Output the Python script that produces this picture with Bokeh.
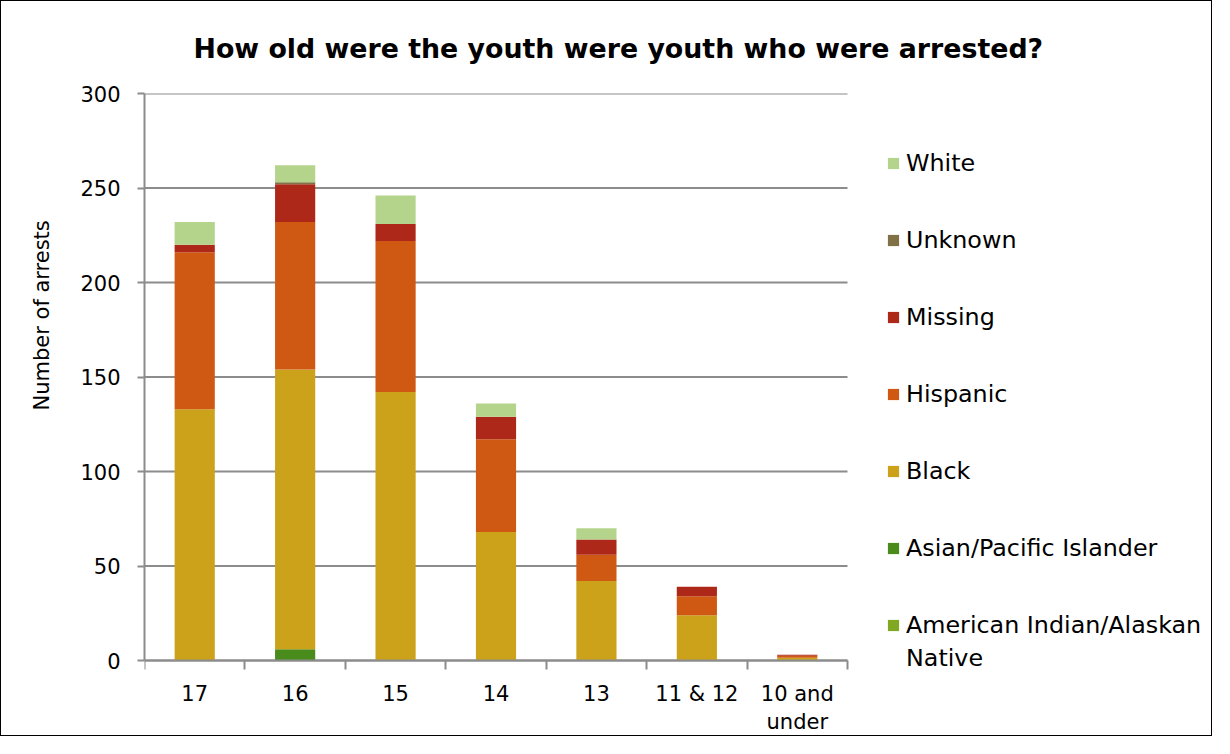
from bokeh.plotting import figure
from bokeh.models import (FixedTicker, ColumnDataSource, Legend, LegendItem,
                          Range1d, Title)
from bokeh.embed import file_html
from bokeh.resources import INLINE

categories = ["17", "16", "15", "14", "13", "11 & 12", "10 and\nunder"]
american_indian = [0, 0, 0, 0, 0, 0, 0]
asian = [0, 6, 0, 0, 0, 0, 0]
black = [133, 148, 142, 68, 42, 24, 1.5]
hispanic = [83, 78, 80, 49, 14, 10, 1]
missing = [4, 20, 9, 12, 8, 5, 0.6]
unknown = [0, 1, 0, 0, 0, 0, 0]
white = [12, 9, 15, 7, 6, 0, 0]
y_ticks = [0, 50, 100, 150, 200, 250, 300]

series = ["American Indian/Alaskan", "Asian/Pacific Islander", "Black",
          "Hispanic", "Missing", "Unknown", "White"]
series_wrap = "Native"
keys = ["ai", "asian", "black", "hispanic", "missing", "unknown", "white"]
colors = ["#80a822", "#4a8c1c", "#cca21b", "#cf5913", "#ae2819", "#807147", "#b4d48c"]

NCAT = len(categories)
xs = [i + 0.5 for i in range(NCAT)]
src = ColumnDataSource(dict(x=xs, ai=american_indian, asian=asian, black=black,
                            hispanic=hispanic, missing=missing, unknown=unknown,
                            white=white))

FONT = "DejaVu Sans"
GRAY = "#8c8c8c"

# canvas / frame geometry (pixels)
W, H = 1212, 736
LEFT, TOP = 143, 92
ZERO_PX = 659            # canvas y of value 0
CAT_PX = 703 / NCAT      # pixels per category
PX_PER_UNIT = (ZERO_PX - TOP) / 300
x_end = (W - LEFT) / CAT_PX
y_start = -(H - ZERO_PX) / PX_PER_UNIT

p = figure(width=W, height=H, output_backend="svg", toolbar_location=None,
           x_range=Range1d(0, x_end), y_range=Range1d(y_start, 300),
           min_border_left=LEFT, min_border_top=TOP, min_border_right=0,
           min_border_bottom=0, background_fill_color="white",
           border_fill_color="white")
p.styles = {"border": "1px solid black"}
p.outline_line_color = None
p.xgrid.grid_line_color = None
p.ygrid.grid_line_color = None

# horizontal gridlines limited to the category area
p.segment(x0=[0] * len(y_ticks), x1=[NCAT] * len(y_ticks), y0=y_ticks, y1=y_ticks,
          line_color=GRAY, line_width=2)

renderers = p.vbar_stack(keys, x="x", width=0.4, source=src, color=colors,
                         line_color=None)
dummy = p.scatter(x=[], y=[], marker="square", fill_alpha=0, line_alpha=0)

# title
p.title.text = "How old were the youth were youth who were arrested?"
p.title.text_font = FONT
p.title.text_font_size = "26.8px"
p.title.text_font_style = "bold"
p.title.text_color = "black"
p.title.align = "left"
p.title.offset = 49
p.title.standoff = 59

# x axis drawn at value 0
xa = p.xaxis[0]
xa.fixed_location = 0
xa.bounds = (0, NCAT)
xa.ticker = FixedTicker(ticks=xs, minor_ticks=list(range(NCAT + 1)))
xa.major_label_overrides = {x: c for x, c in zip(xs, categories)}
xa.major_tick_out = 0
xa.major_tick_in = 0
xa.minor_tick_out = 9
xa.minor_tick_in = 0
xa.minor_tick_line_color = GRAY
xa.minor_tick_line_width = 2
xa.axis_line_color = GRAY
xa.axis_line_width = 2
xa.major_label_text_font = FONT
xa.major_label_text_font_size = "21px"
xa.major_label_text_color = "black"
xa.major_label_standoff = 12

# y axis
ya = p.yaxis[0]
ya.bounds = (0, 300)
ya.ticker = FixedTicker(ticks=y_ticks)
ya.major_tick_out = 7
ya.major_tick_in = 0
ya.minor_tick_out = 0
ya.minor_tick_in = 0
ya.major_tick_line_color = GRAY
ya.major_tick_line_width = 2
ya.axis_line_color = GRAY
ya.axis_line_width = 2
ya.major_label_text_font = FONT
ya.major_label_text_font_size = "21px"
ya.major_label_text_color = "black"
ya.major_label_standoff = 17

ytitle = Title(text="Number of arrests", align="left", offset=327, standoff=48,
               text_font=FONT, text_font_size="21px", text_font_style="normal",
               text_color="black")
p.add_layout(ytitle, "left")

# legend
items = [LegendItem(label=s, renderers=[r]) for s, r in zip(series, renderers)]
items = items[::-1]
common = dict(orientation="vertical", glyph_width=14, glyph_height=14,
              label_standoff=6, label_text_font=FONT, label_text_font_size="23.8px",
              label_text_color="black", label_height=30, padding=0, margin=0,
              border_line_color=None, background_fill_alpha=0)
legend = Legend(items=items, location=(742, 97), spacing=47, **common)
legend2 = Legend(items=[LegendItem(label=series_wrap, renderers=[dummy])],
                 location=(742, 64), spacing=0, **common)
p.add_layout(legend, "center")
p.add_layout(legend2, "center")

open("out.html", "w").write(file_html(p, INLINE))
